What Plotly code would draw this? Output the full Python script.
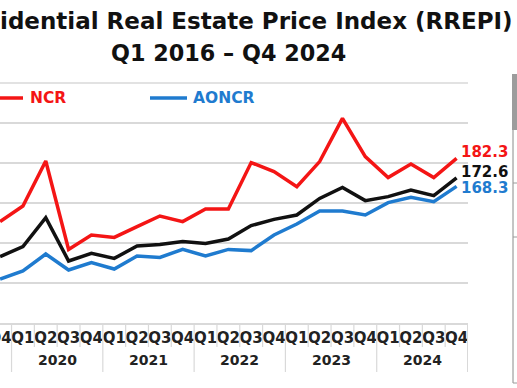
import plotly.graph_objects as go

# ---------------- data ----------------
quarters = ["Q4",
            "Q1", "Q2", "Q3", "Q4",
            "Q1", "Q2", "Q3", "Q4",
            "Q1", "Q2", "Q3", "Q4",
            "Q1", "Q2", "Q3", "Q4",
            "Q1", "Q2", "Q3", "Q4"]
years = [2019,
         2020, 2020, 2020, 2020,
         2021, 2021, 2021, 2021,
         2022, 2022, 2022, 2022,
         2023, 2023, 2023, 2023,
         2024, 2024, 2024, 2024]
ncr = [150.7, 158.5, 181.0, 136.8, 144.0, 142.8, 148.2, 153.5, 150.7, 157.0, 157.0,
       180.2, 175.7, 168.2, 180.7, 202.3, 183.2, 172.7, 179.5, 172.7, 182.3]
all_india = [133.2, 138.2, 152.7, 131.0, 134.8, 132.3, 138.5, 139.3, 140.7, 139.8, 142.0,
             148.7, 151.8, 154.0, 162.3, 167.8, 161.2, 163.2, 166.5, 163.7, 172.6]
aoncr = [122.0, 126.0, 134.5, 126.5, 130.2, 127.0, 133.5, 132.8, 136.8, 133.5, 136.8,
         136.2, 144.0, 149.5, 156.0, 156.0, 154.0, 160.2, 162.8, 160.7, 168.3]
series_names = ["NCR", "AONCR", "All India"]
title_line1 = "Residential Real Estate Price Index (RREPI)"
title_line2 = "Q1 2016 – Q4 2024"

# ---------------- styling ----------------
RED = "#f41515"
BLUE = "#1f7bcf"
BLACK = "#111111"
GRID = "#d9d9d9"
FONT = "DejaVu Sans"
W, H = 517, 388
L, R, T, B = 0, 49, 82, 65
PW, PH = W - L - R, H - T - B


def px_x(px):
    return (px - L) / PW


def px_y(py):
    return (H - B - py) / PH


x = list(range(len(quarters)))

fig = go.Figure()
for vals, color, name in [(aoncr, BLUE, series_names[1]),
                          (all_india, BLACK, series_names[2]),
                          (ncr, RED, series_names[0])]:
    fig.add_trace(go.Scatter(x=x, y=vals, mode="lines", name=name,
                             line=dict(color=color, width=3.5),
                             showlegend=False, hoverinfo="skip"))

# end-value labels
for vals, color, ys in [(ncr, RED, 6), (all_india, BLACK, 6), (aoncr, BLUE, -2)]:
    fig.add_annotation(x=x[-1], y=vals[-1], text=f"{vals[-1]:.1f}",
                       xanchor="left", yanchor="middle", xshift=2, yshift=ys,
                       showarrow=False,
                       font=dict(family=FONT, size=15, color=color, weight="bold"))

# year group labels and dividers
shapes = []
for yr in sorted(set(years)):
    idx = [i for i, v in enumerate(years) if v == yr]
    if len(idx) == 4:
        fig.add_annotation(x=sum(idx) / 4, y=px_y(360), xref="x", yref="paper",
                           text=str(yr), showarrow=False, yanchor="middle",
                           font=dict(family=FONT, size=14, color="#222222", weight="bold"))
for i, q in enumerate(quarters):
    if i == 0:
        continue
    long_div = q == "Q1"
    shapes.append(dict(type="line", xref="x", yref="paper", x0=i - 0.5, x1=i - 0.5,
                       y0=px_y(323), y1=px_y(372 if long_div else 347),
                       line=dict(color=GRID, width=1.2)))
shapes.append(dict(type="line", xref="x", yref="paper",
                   x0=len(quarters) - 0.5, x1=len(quarters) - 0.5,
                   y0=px_y(323), y1=px_y(372), line=dict(color=GRID, width=2)))

# top gridline (plotly drops grid lines at the range end)
shapes.append(dict(type="line", xref="paper", yref="y", x0=0, x1=1, y0=220, y1=220,
                   line=dict(color=GRID, width=1.5), layer="below"))

# custom legend
for name, color, lx0, lx1, tx in [(series_names[0], RED, -14, 23, 28),
                                  (series_names[1], BLUE, 150, 187, 191)]:
    shapes.append(dict(type="line", xref="paper", yref="paper",
                       x0=px_x(lx0), x1=px_x(lx1), y0=px_y(98), y1=px_y(98),
                       line=dict(color=color, width=3.5)))
    fig.add_annotation(x=px_x(tx), y=px_y(98), xref="paper", yref="paper",
                       text=name, showarrow=False, xanchor="left", yanchor="middle",
                       font=dict(family=FONT, size=15.5, color=color, weight="bold"))

# title
fig.add_annotation(x=px_x(515), y=px_y(21), xref="paper", yref="paper",
                   text=title_line1, showarrow=False, xanchor="right", yanchor="middle",
                   font=dict(family=FONT, size=23.0, color="#111111", weight="bold"))
fig.add_annotation(x=px_x(228), y=px_y(53), xref="paper", yref="paper",
                   text=title_line2, showarrow=False, xanchor="center", yanchor="middle",
                   font=dict(family=FONT, size=22.3, color="#111111", weight="bold"))

# right-edge frame of neighbouring element
shapes.append(dict(type="rect", xref="paper", yref="paper",
                   x0=px_x(512), x1=px_x(518), y0=px_y(130), y1=px_y(74),
                   fillcolor="#9c9c9c", line=dict(width=0)))
shapes.append(dict(type="line", xref="paper", yref="paper",
                   x0=px_x(513), x1=px_x(513), y0=px_y(130), y1=px_y(383),
                   line=dict(color="#8a8a8a", width=1)))
for py in (183, 237, 383):
    shapes.append(dict(type="line", xref="paper", yref="paper",
                       x0=px_x(513), x1=px_x(518), y0=px_y(py), y1=px_y(py),
                       line=dict(color="#9a9a9a", width=1)))

fig.update_layout(
    width=W, height=H,
    margin=dict(l=L, r=R, t=T, b=B, pad=0, autoexpand=False),
    paper_bgcolor="white", plot_bgcolor="white",
    shapes=shapes,
    showlegend=False,
    xaxis=dict(range=[-0.005, len(quarters) - 0.5], tickmode="array",
               tickvals=x, ticktext=quarters, ticks="", tickangle=0, showgrid=False,
               ticklabeloverflow="allow", automargin=False,
               zeroline=False, showline=True, linecolor=GRID, linewidth=1.5,
               tickfont=dict(family=FONT, size=15, color="#222222", weight="bold"),
               fixedrange=True),
    yaxis=dict(range=[100, 220.5], tick0=100, dtick=20, showgrid=True,
               gridcolor=GRID, gridwidth=1.5, showticklabels=False, automargin=False,
               zeroline=False, showline=False, fixedrange=True),
)

fig.write_html("out.html",
               config={"displayModeBar": False, "staticPlot": True},
               post_script="document.body.style.margin='0';"
                           "document.body.style.overflow='hidden';")
